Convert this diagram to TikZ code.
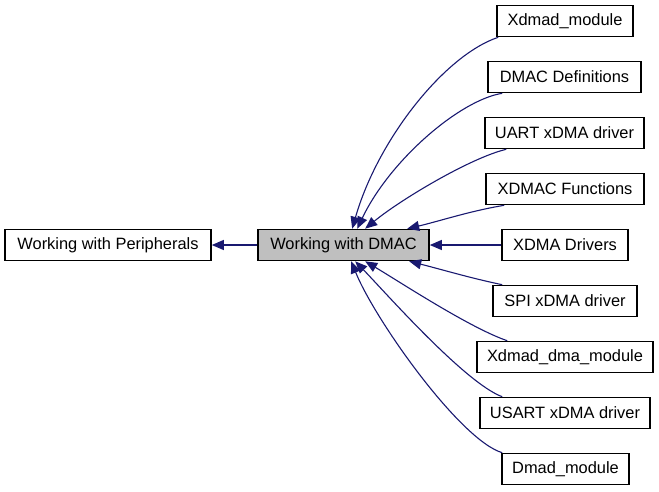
\documentclass[tikz,border=0pt]{standalone}
\usepackage{fontspec}
\setmainfont{Liberation Sans}
\usetikzlibrary{arrows.meta,calc}
\definecolor{edgeblue}{HTML}{191970}
\definecolor{boxgray}{HTML}{BFBFBF}
\begin{document}
\begin{tikzpicture}[x=1pt,y=-1pt,
  box/.style={draw=black,line width=1.6pt,fill=white,minimum height=31pt,inner sep=0pt,
    font=\fontsize{16.4}{18}\selectfont},
  cur/.style={box,fill=boxgray},
  edge/.style={draw=edgeblue,line width=1.1pt,{Triangle[length=12pt,width=10pt]}-}]
\useasboundingbox (0,0) rectangle (659,491);
\node[box,minimum width=206pt] (per) at (108,245) {Working with Peripherals};
\node[cur,minimum width=171pt] (dm) at (343.5,245) {Working with DMAC};
\node[box,minimum width=136pt] (xm) at (565,21) {Xdmad\_module};
\node[box,minimum width=153pt] (dd) at (564.5,77) {DMAC Definitions};
\node[box,minimum width=159pt] (ua) at (564.5,133) {UART xDMA driver};
\node[box,minimum width=158pt] (xf) at (565,189) {XDMAC Functions};
\node[box,minimum width=126pt] (xd) at (565,245) {XDMA Drivers};
\node[box,minimum width=144pt] (sp) at (565,301) {SPI xDMA driver};
\node[box,minimum width=176pt] (xdm) at (565,357) {Xdmad\_dma\_module};
\node[box,minimum width=170pt] (us) at (565,413) {USART xDMA driver};
\node[box,minimum width=127pt] (dmad) at (565.5,469) {Dmad\_module};
% edges
\draw[edge] (per.east) -- (dm.west);
\draw[edge] (dm.east) -- (xd.west);
\draw[edge] ($(dm.north west)+(95,0)$) .. controls (378,139) and (445,55) .. ($(xm.south west)+(2,0)$);
\draw[edge] ($(dm.north west)+(100,0)$) .. controls (390,160) and (460,100) .. ($(dd.south west)+(15,0)$);
\draw[edge] ($(dm.north west)+(108,0)$) .. controls (400,200) and (470,158) .. ($(ua.south west)+(22,0)$);
\draw[edge] ($(dm.north west)+(150,0)$) .. controls (440,221) and (470,211) .. ($(xf.south west)+(19,0)$);
\draw[edge] ($(dm.south west)+(152,0)$) .. controls (440,269) and (470,278) .. ($(sp.north west)+(10,0)$);
\draw[edge] ($(dm.south west)+(108,0)$) .. controls (400,282) and (470,328) .. ($(xdm.north west)+(31,0)$);
\draw[edge] ($(dm.south west)+(98,0)$) .. controls (385,292) and (465,383) .. ($(us.north west)+(23,0)$);
\draw[edge] ($(dm.south west)+(94,0)$) .. controls (375,320) and (460,440) .. ($(dmad.north west)+(1,0)$);
\end{tikzpicture}
\end{document}
